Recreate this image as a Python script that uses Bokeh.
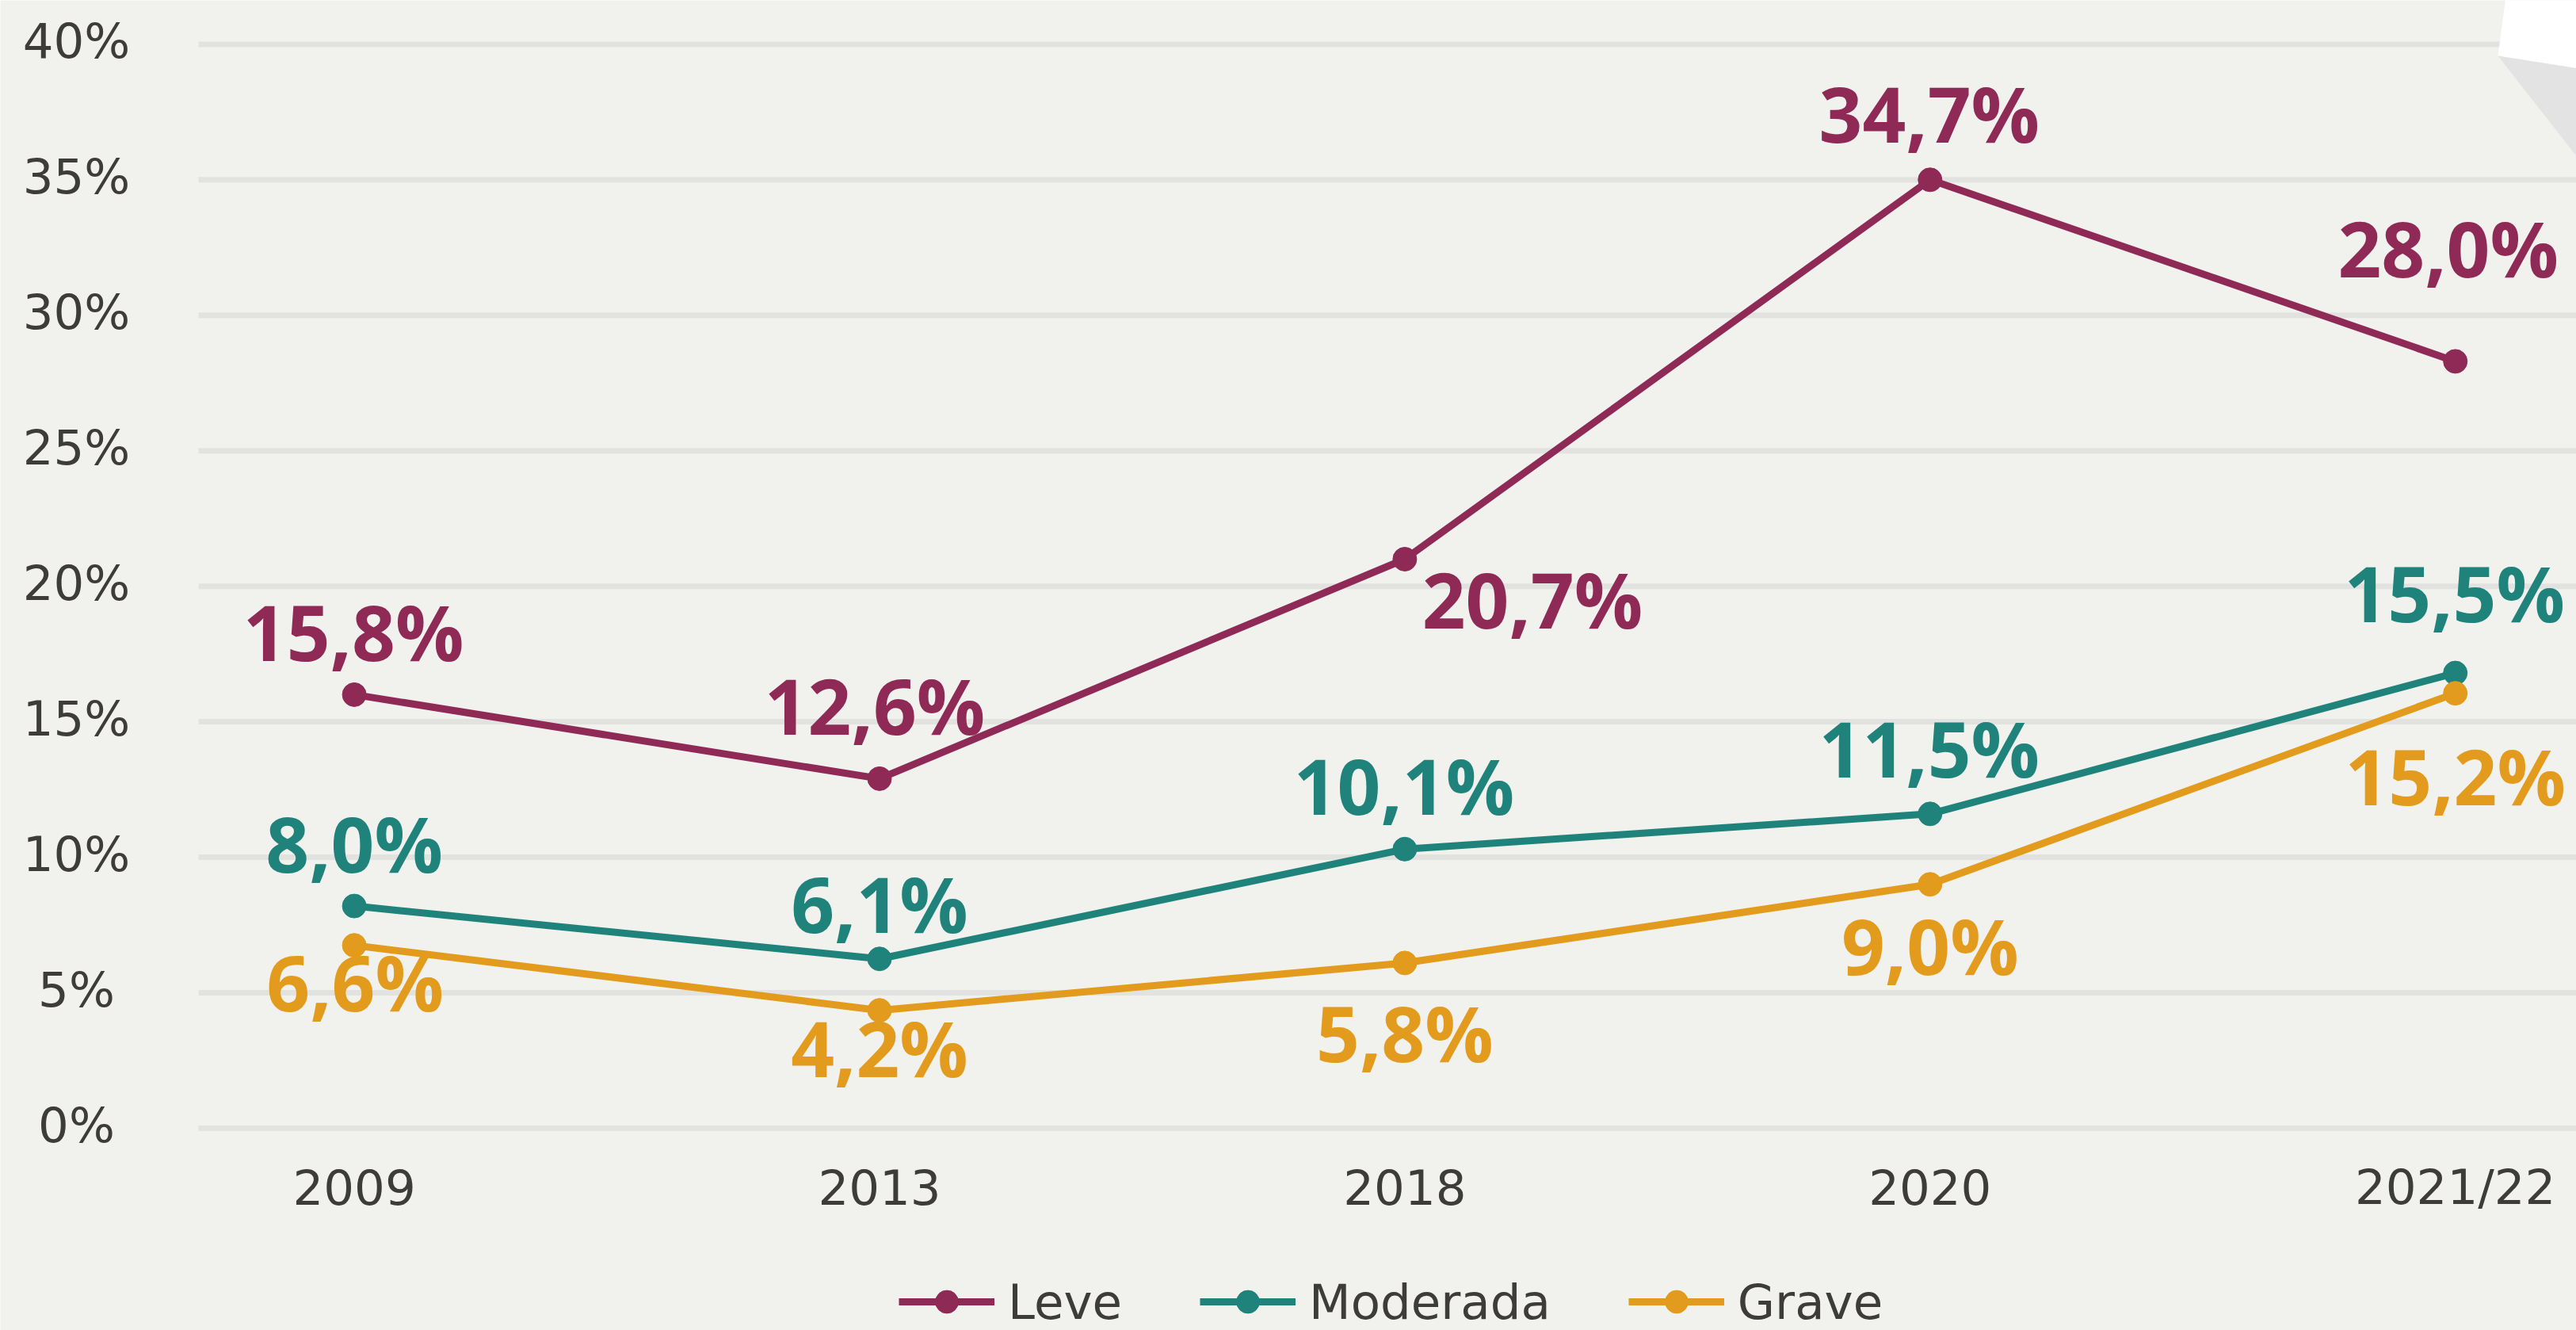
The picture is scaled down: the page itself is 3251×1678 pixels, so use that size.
from bokeh.plotting import figure
from bokeh.models import Range1d, Legend, LegendItem
from bokeh.embed import file_html
from bokeh.resources import INLINE
from bokeh.core.properties import value

# ---------------- data ----------------
categories = ["2009", "2013", "2018", "2020", "2021/22"]
leve = [16.0, 12.9, 21.0, 35.0, 28.3]
moderada = [8.2, 6.25, 10.3, 11.6, 16.8]
grave = [6.75, 4.35, 6.1, 9.0, 16.05]
leve_labels = ["15,8%", "12,6%", "20,7%", "34,7%", "28,0%"]
moderada_labels = ["8,0%", "6,1%", "10,1%", "11,5%", "15,5%"]
grave_labels = ["6,6%", "4,2%", "5,8%", "9,0%", "15,2%"]
y_ticks = [0, 5, 10, 15, 20, 25, 30, 35, 40]
y_tick_labels = ["0%", "5%", "10%", "15%", "20%", "25%", "30%", "35%", "40%"]
series_names = ["Leve", "Moderada", "Grave"]

# ---------------- style / layout ----------------
C_LEVE = "#8E2A55"
C_MOD = "#1F837B"
C_GRAVE = "#E29B1C"
TEXT = "#3E3C39"
BG = "#F1F1EE"
GRID = "#E2E2E0"

W, H = 3251, 1678
x_start, x_end = -0.6737, 4.2305
y_start, y_end = -7.46, 41.62
pxu = W / (x_end - x_start)
pyu = H / (y_end - y_start)

# label offsets in screen px, relative to each point
leve_dx = [-1, -6, 161, -1, -9]
leve_dy = [-80, -93, 50, -84, -143]
mod_dx = [0, 0, -1, -1, -1]
mod_dy = [-80, -70, -81, -83, -102]
grave_dx = [1, 0, 0, 0, 0]
grave_dy = [46, 47, 88, 77, 104]

idx = list(range(len(categories)))

p = figure(width=W, height=H,
           x_range=Range1d(x_start, x_end), y_range=Range1d(y_start, y_end),
           x_axis_type=None, y_axis_type=None,
           toolbar_location=None, output_backend="svg",
           min_border=0, min_border_left=0, min_border_right=0,
           min_border_top=0, min_border_bottom=0,
           background_fill_color=BG, border_fill_color=BG,
           outline_line_color=None)

# horizontal gridlines
grid_x0 = x_start + 250 / pxu
p.segment(x0=grid_x0, y0=y_ticks, x1=x_end, y1=y_ticks,
          line_color=GRID, line_width=7)

# torn paper decoration (top-right corner), pixel coordinates
def dx(px):
    return x_start + px / pxu

def dy(py):
    return y_end - py / pyu

p.patch([dx(3162), dx(3152), dx(3260), dx(3260)],
        [dy(-5), dy(70), dy(87), dy(-5)],
        fill_color="#FFFFFF", line_color=None)
p.patch([dx(3152), dx(3260), dx(3260)],
        [dy(70), dy(87), dy(208)],
        fill_color="#E3E3E3", line_color=None)

# y tick labels
p.text(x=x_start, y=y_ticks, text=y_tick_labels, x_offset=96, y_offset=-4,
       text_font=value("DejaVu Sans"), text_font_size="61px",
       text_color=TEXT, text_align="center", text_baseline="alphabetic")

# x tick labels
p.text(x=idx, y=0, text=categories, y_offset=74,
       text_font=value("DejaVu Sans"), text_font_size="61px",
       text_color=TEXT, text_align="center", text_baseline="alphabetic")

renderers = []
for vals, col in [(leve, C_LEVE), (moderada, C_MOD), (grave, C_GRAVE)]:
    l = p.line(idx, vals, line_color=col, line_width=9, line_join="round")
    s = p.scatter(idx, vals, size=30, fill_color=col, line_color=col)
    renderers.append([l, s])

for vals, labs, col, ox, oy in [(leve, leve_labels, C_LEVE, leve_dx, leve_dy),
                                (moderada, moderada_labels, C_MOD, mod_dx, mod_dy),
                                (grave, grave_labels, C_GRAVE, grave_dx, grave_dy)]:
    p.text(x=idx, y=vals, text=labs, x_offset=ox, y_offset=oy,
           text_font=value("Open Sans"), text_font_style="bold",
           text_font_size="96px", text_color=col,
           text_align="center", text_baseline="alphabetic")

legend = Legend(items=[LegendItem(label=n, renderers=r) for n, r in zip(series_names, renderers)],
                orientation="horizontal", location=(1134, 0),
                glyph_width=121, glyph_height=72, label_height=72,
                label_standoff=17, spacing=98, padding=0, margin=0,
                background_fill_alpha=0, border_line_color=None,
                label_text_font="DejaVu Sans", label_text_font_size="61px",
                label_text_color=TEXT)
p.add_layout(legend)

open("out.html", "w").write(file_html(p, INLINE))
